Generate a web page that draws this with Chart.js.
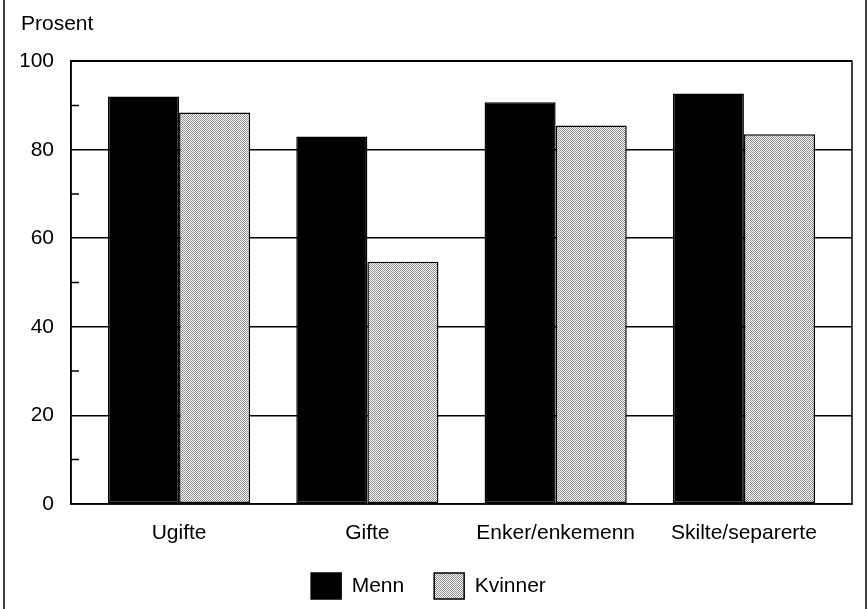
<!DOCTYPE html>
<html>
<head>
<meta charset="utf-8">
<script src="https://cdn.jsdelivr.net/npm/chart.js@4"></script>
<style>
  html, body { margin: 0; padding: 0; background: #fff; }
  #wrap { width: 868px; height: 609px; }
</style>
</head>
<body>
<div id="wrap"><canvas id="myChart"></canvas></div>
<script>
// data
const categories = ["Ugifte", "Gifte", "Enker/enkemenn", "Skilte/separerte"];
const menn = [92, 83, 90.7, 92.7];
const kvinner = [88.4, 54.7, 85.5, 83.5];
const yTicks = [0, 20, 40, 60, 80, 100];

const FONT = "'Liberation Sans Narrow', 'Arial Narrow', 'Liberation Sans', sans-serif";

// dotted grey fill like the print screen
function dots() {
  const p = document.createElement("canvas");
  p.width = 2; p.height = 2;
  const c = p.getContext("2d");
  c.fillStyle = "#fff";
  c.fillRect(0, 0, 2, 2);
  c.fillStyle = "#8c8c8c";
  c.fillRect(0, 0, 1, 1);
  c.fillRect(1, 1, 1, 1);
  return c.createPattern(p, "repeat");
}
const grey = dots();

// frame round the plot, inner minor ticks, side rules
const deco = {
  id: "deco",
  afterLayout(chart) {
    // legend sits a little left of centre in the original
    chart.legend.left -= 8;
    chart.legend.right -= 8;
  },
  afterDraw(chart) {
    const ctx = chart.ctx;
    const a = chart.chartArea;
    const y = chart.scales.y;
    ctx.save();
    ctx.strokeStyle = "#000";
    ctx.lineWidth = 1.5;
    ctx.strokeRect(a.left, a.top, a.right - a.left, a.bottom - a.top);
    ctx.beginPath();
    for (let v = 10; v < 100; v += 20) {
      const py = y.getPixelForValue(v);
      ctx.moveTo(a.left, py);
      ctx.lineTo(a.left + 8, py);
    }
    ctx.moveTo(4, 0); ctx.lineTo(4, chart.height);
    ctx.moveTo(866, 0); ctx.lineTo(866, chart.height);
    ctx.stroke();
    ctx.restore();
  }
};

new Chart("myChart", {
  type: "bar",
  data: {
    labels: categories,
    datasets: [{
      label: "Menn",
      data: menn,
      backgroundColor: "#000",
      borderColor: "#000",
      borderWidth: 1.5,
      borderSkipped: false
    }, {
      label: "Kvinner",
      data: kvinner,
      backgroundColor: grey,
      borderColor: "#000",
      borderWidth: 1.5,
      borderSkipped: false
    }]
  },
  options: {
    responsive: true,
    maintainAspectRatio: false,
    animation: false,
    layout: { padding: { left: 21, right: 16, top: 0, bottom: 0 } },
    datasets: { bar: { categoryPercentage: 0.755, barPercentage: 1 } },
    plugins: {
      tooltip: { enabled: false },
      title: {
        display: true,
        text: "Prosent",
        align: "start",
        color: "#000",
        font: { family: FONT, size: 21, weight: "normal" },
        padding: { top: 12, bottom: 24 }
      },
      legend: {
        position: "bottom",
        labels: {
          color: "#000",
          font: { family: FONT, size: 21 },
          boxWidth: 30,
          boxHeight: 26,
          padding: 30
        }
      }
    },
    scales: {
      x: {
        offset: false,
        afterBuildTicks(s) {
          // wider side margins than a plain offset axis
          s._startValue = -0.574;
          s._valueRange = 4.148;
          s.ticks = categories.map((_, i) => ({ value: i }));
        },
        afterFit(s) { s.height -= 12; },
        grid: { display: false },
        border: { display: true, color: "#000", width: 1.5 },
        ticks: { color: "#000", font: { family: FONT, size: 21 }, padding: 9, maxRotation: 0, autoSkip: false }
      },
      y: {
        min: 0,
        max: 100,
        afterBuildTicks(s) {
          s.ticks = yTicks.map(v => ({ value: v }));
        },
        afterFit(s) { s.width = 50; },
        grid: {
          color: "#000",
          lineWidth: 1.5,
          drawTicks: false
        },
        border: { display: true, color: "#000", width: 1.5 },
        ticks: { color: "#000", font: { family: FONT, size: 21 }, padding: 17 }
      }
    }
  },
  plugins: [deco]
});
</script>
</body>
</html>
